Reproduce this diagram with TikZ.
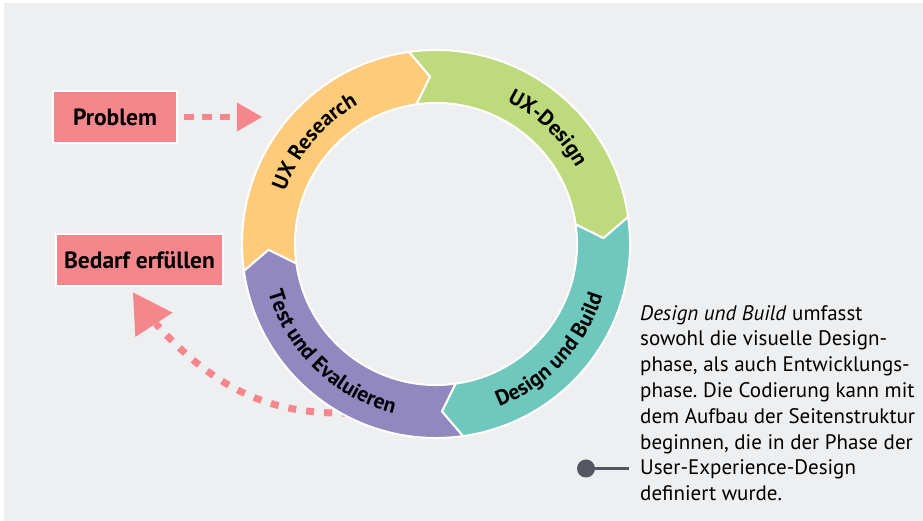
\documentclass[tikz,border=0pt]{standalone}
\usepackage{fontspec}
\setmainfont{PT Sans}
\usepackage{tikz}
\usetikzlibrary{shapes.geometric}
\usetikzlibrary{decorations.text}
\usepackage{xcolor}
\frenchspacing
\definecolor{ColBg}{RGB}{238,239,241}
\definecolor{ColA}{RGB}{254,203,122}
\definecolor{ColB}{RGB}{190,218,124}
\definecolor{ColC}{RGB}{111,200,190}
\definecolor{ColD}{RGB}{145,136,192}
\definecolor{ColP}{RGB}{245,135,140}
\definecolor{ColG}{RGB}{85,86,96}
\newcommand{\RingFont}{\bfseries\fontsize{21.5}{21.5}\selectfont}
\tikzstyle{RingPart}=[draw=white,line width=2pt,line join=round]
\tikzstyle{RingText}=[decorate,decoration={text along path,text align=center}]
\tikzstyle{BoxLabel}=[rectangle,fill=ColP,draw=white,line width=1.5pt,minimum height=52pt,
inner sep=0pt,font=\bfseries\fontsize{23.5}{26}\selectfont]
\tikzstyle{HeadTri}=[regular polygon,regular polygon sides=3,fill=ColP,inner sep=0pt,outer sep=0pt]
\tikzstyle{EdgeDash}=[ColP,line width=6.5pt,dash pattern=on 10pt off 8pt]
\tikzstyle{EdgeDot}=[ColP,line width=7pt,dash pattern=on 8pt off 10pt]
\tikzstyle{DotMark}=[circle,fill=ColG,minimum size=18pt,inner sep=0pt,outer sep=0pt]
\tikzstyle{TextNote}=[anchor=north west,inner sep=0pt,align=left,
font=\fontsize{21}{25.8}\selectfont]

\begin{document}
\begin{tikzpicture}[x=1pt,y=1pt]
        \useasboundingbox(0,0)rectangle(923,521);
        \fill[white](0,0)rectangle(923,521);
        \fill[ColBg](4,0)rectangle(923,518);
        % boxes and heads
        \node[BoxLabel,minimum width=124pt](p)at(115,404){Problem};
        \node[BoxLabel,minimum width=167pt](b)at(139.5,261){Bedarf erfüllen};
        \node[HeadTri,minimum size=33.5pt,shape border rotate=-90](t)at(245.3,404){};
        \node[HeadTri,minimum size=51.4pt,shape border rotate=-87](s)at(147,207){};
        \coordinate(q)at(350,108);
        \draw[EdgeDash,shorten <=6pt](p)--(t);
        \draw[EdgeDot](q)..controls(270,106)and(215,132)..(s);
        % ring
        \begin{scope}[shift={(436,277)}]
        \filldraw[RingPart,fill=ColA](188:194)arc[start angle=188,end angle=98,radius=194pt]
            --(92:167.5)--(98:141)arc[start angle=98,end angle=188,radius=141pt]--(182:167.5)--cycle;
        \filldraw[RingPart,fill=ColB](98:194)arc[start angle=98,end angle=8,radius=194pt]
            --(2:167.5)--(8:141)arc[start angle=8,end angle=98,radius=141pt]--(92:167.5)--cycle;
        \filldraw[RingPart,fill=ColC](8:194)arc[start angle=8,end angle=-82,radius=194pt]
            --(-88:167.5)--(-82:141)arc[start angle=-82,end angle=8,radius=141pt]--(2:167.5)--cycle;
        \filldraw[RingPart,fill=ColD](-82:194)arc[start angle=-82,end angle=-172,radius=194pt]
            --(-178:167.5)--(-172:141)arc[start angle=-172,end angle=-82,radius=141pt]--(-88:167.5)--cycle;
        \path[RingText,decoration={text={|\RingFont|UX Research}}](185:159.5)arc[start angle=185,end angle=95,radius=159.5pt];
        \path[RingText,decoration={text={|\RingFont|UX-Design}}](91:159.5)arc[start angle=91,end angle=1,radius=159.5pt];
        \path[RingText,decoration={text={|\RingFont|Design und Build}}](-88:174.5)arc[start angle=-88,end angle=2,radius=174.5pt];
        \path[RingText,decoration={text={|\RingFont|Test und Evaluieren}}](181:174.5)arc[start angle=181,end angle=271,radius=174.5pt];
        \end{scope}
        % note
        \node[DotMark](d)at(586,52.5){};
        \coordinate(e)at(629,52.5);
        \draw[ColG,line width=3.3pt](d)--(e);
        \node[TextNote](n)at(640,216){\textit{Design und Build} umfasst\\
            sowohl die visuelle Design-\\
            phase, als auch Entwicklungs-\\
            phase. Die Codierung kann mit\\
            dem Aufbau der Seitenstruktur\\
            beginnen, die in der Phase der\\
            User-Experience-Design\\
            definiert wurde.};
    \end{tikzpicture}
\end{document}
